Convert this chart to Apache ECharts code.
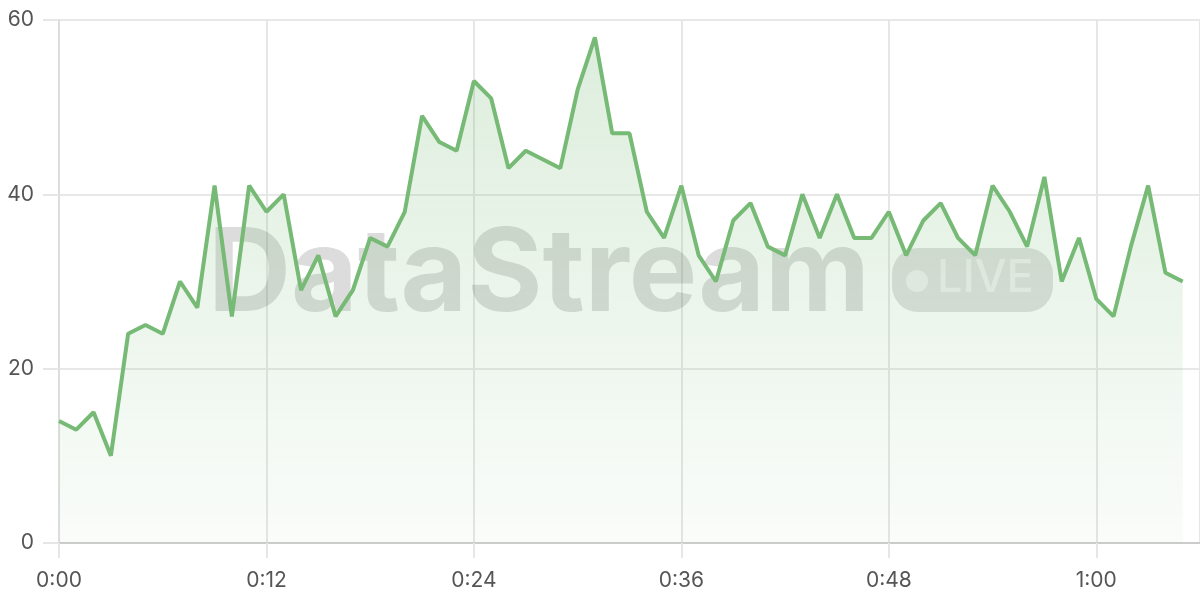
<!DOCTYPE html>
<html>
<head>
<meta charset="utf-8">
<script src="https://cdn.jsdelivr.net/npm/echarts@6/dist/echarts.min.js"></script>
<style>
html,body{margin:0;padding:0;background:#fff;}
#c{width:1200px;height:600px;}
</style>
</head>
<body>
<div id="c"></div>
<script>
const minutes = [0,1,2,3,4,5,6,7,8,9,10,11,12,13,14,15,16,17,18,19,20,21,22,23,24,25,26,27,28,29,30,31,32,33,34,35,36,37,38,39,40,41,42,43,44,45,46,47,48,49,50,51,52,53,54,55,56,57,58,59,60,61,62,63,64,65];
const values = [14,13,15,10,24,25,24,30,27,41,26,41,38,40,29,33,26,29,35,34,38,49,46,45,53,51,43,45,44,43,52,58,47,47,38,35,41,33,30,37,39,34,33,40,35,40,35,35,38,33,37,39,35,33,41,38,34,42,30,35,28,26,34,41,31,30];
const yTicks = [0,20,40,60];
const xTickStep = 12;

function fmtMin(v){
  const h = Math.floor(v/60), m = v%60;
  return h + ':' + (m<10?'0':'') + m;
}

const chart = echarts.init(document.getElementById('c'), null, {renderer:'canvas'});
const labelFont = {fontFamily:'Inter', fontSize:21, color:'#555'};
chart.setOption({
  animation:false,
  grid:{left:59, right:0, top:20, bottom:57},
  graphic:[
    {type:'text', left:208, top:219, z:1,
     style:{text:'DataStream', font:'bold 115px Inter', fill:'rgba(60,60,60,0.18)'}},
    {type:'rect', shape:{x:892, y:248, width:161, height:64, r:26}, z:1,
     style:{fill:'rgba(60,60,60,0.16)'}},
    {type:'circle', shape:{cx:917, cy:281, r:11}, z:1,
     style:{fill:'rgba(255,255,255,0.5)'}},
    {type:'text', left:937, top:256, z:1,
     style:{text:'LIVE', font:'500 45px Inter', fill:'rgba(255,255,255,0.5)'}}
  ],
  xAxis:{
    type:'value', min:0, max:66, interval:xTickStep,
    axisLine:{show:true, lineStyle:{color:'#cccccc', width:2}},
    axisTick:{show:true, length:15, lineStyle:{color:'#e6e6e6', width:2}},
    splitLine:{show:true, lineStyle:{color:'#e6e6e6', width:2}},
    axisLabel:Object.assign({margin:27, showMaxLabel:false, formatter:fmtMin}, labelFont)
  },
  yAxis:{
    type:'value', min:yTicks[0], max:yTicks[yTicks.length-1], interval:20,
    axisLine:{show:true, lineStyle:{color:'#dddddd', width:2}},
    axisTick:{show:true, length:16, lineStyle:{color:'#e6e6e6', width:2}},
    splitLine:{show:true, lineStyle:{color:'#e8e8e8', width:2}},
    axisLabel:Object.assign({margin:25}, labelFont)
  },
  series:[{
    type:'line',
    data:minutes.map((m,i)=>[m, values[i]]),
    symbol:'none',
    smooth:false,
    z:3,
    lineStyle:{color:'#76ba76', width:4},
    areaStyle:{
      color:new echarts.graphic.LinearGradient(0,0,0,1,[
        {offset:0, color:'rgba(120,187,120,0.36)'},
        {offset:1, color:'rgba(120,187,120,0.06)'}
      ])
    }
  }]
});
</script>
</body>
</html>
